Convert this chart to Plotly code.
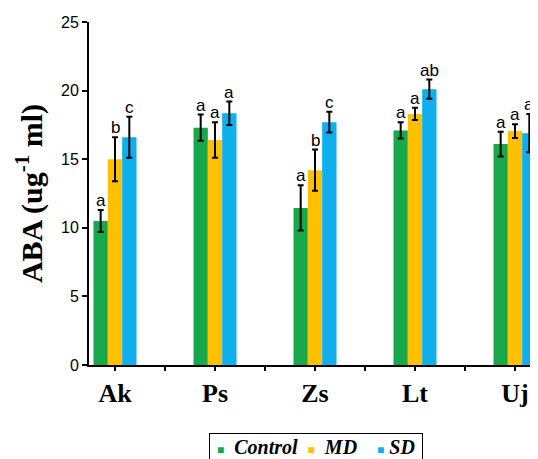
import plotly.graph_objects as go

categories = ["Ak", "Ps", "Zs", "Lt", "Uj"]
series_names = ["Control", "MD", "SD"]
control = [10.5, 17.3, 11.45, 17.1, 16.1]
control_err = [0.8, 0.95, 1.65, 0.6, 0.9]
md = [15.0, 16.4, 14.2, 18.3, 17.05]
md_err = [1.6, 1.3, 1.5, 0.45, 0.5]
sd = [16.6, 18.35, 17.7, 20.1, 16.9]
sd_err = [1.5, 0.85, 0.75, 0.7, 1.4]
control_letters = ["a", "a", "a", "a", "a"]
md_letters = ["b", "a", "b", "a", "a"]
sd_letters = ["c", "a", "c", "ab", "a"]
y_ticks = [0, 5, 10, 15, 20, 25]

colors = ["#17A84B", "#FFC000", "#0FAFEE"]
values = [control, md, sd]
errors = [control_err, md_err, sd_err]
letters = [control_letters, md_letters, sd_letters]

xs = list(range(len(categories)))
bar_w = 0.14
offsets = [-bar_w, 0, bar_w]

fig = go.Figure()
for name, vals, errs, col in zip(series_names, values, errors, colors):
    fig.add_trace(go.Bar(
        x=xs, y=vals, name=name, marker_color=col, marker_line_width=0,
        error_y=dict(type="data", array=errs, visible=True, color="black",
                     thickness=2, width=3),
        showlegend=False,
    ))

for off, vals, errs, labs in zip(offsets, values, errors, letters):
    for i, (v, e, t) in enumerate(zip(vals, errs, labs)):
        fig.add_annotation(
            x=i + off, y=v + e, text=t, showarrow=False,
            yanchor="bottom", xanchor="center", yshift=-2,
            font=dict(family="Liberation Sans, Arial", size=17, color="black"),
        )

# Legend box (compact, like the original)
NB = "\u00a0"
gaps_before_text = [NB * 2, NB * 2, NB]
gaps_after = [NB * 2, NB * 4, NB]
legend_text = NB
for name, col, g1, g2 in zip(series_names, colors, gaps_before_text, gaps_after):
    legend_text += (f'<span style="color:{col};font-size:12px">■</span>'
                    f'{g1}<b><i>{name}</i></b>{g2}')
fig.add_annotation(
    xref="paper", yref="paper", x=0.5056, y=-0.198,
    xanchor="center", yanchor="top", showarrow=False,
    text=legend_text, align="left",
    font=dict(family="Liberation Serif, Times New Roman", size=20, color="black"),
    bordercolor="black", borderwidth=1, borderpad=2, bgcolor="white",
)

fig.update_layout(
    width=530, height=451,
    margin=dict(l=81, r=0, t=14, b=94, autoexpand=False),
    paper_bgcolor="white", plot_bgcolor="white",
    barmode="group", bargap=0.57, bargroupgap=0,
    showlegend=False,
    xaxis=dict(
        range=[-0.26, 4.23], tickmode="array", tickvals=xs,
        ticktext=[f"<b>{c}</b>" for c in categories],
        showline=True, linecolor="black", linewidth=2,
        ticks="outside", ticklen=4, tickwidth=2, tickcolor="black",
        minor=dict(tick0=0.5, dtick=1, ticks="outside", ticklen=4, tickwidth=2,
                   tickcolor="black", showgrid=False),
        showgrid=False, zeroline=False,
        tickfont=dict(family="Liberation Serif, Times New Roman", size=26, color="black"),
    ),
    yaxis=dict(
        range=[0, 25], tickvals=y_ticks,
        showline=True, linecolor="black", linewidth=2,
        ticks="outside", ticklen=5, tickwidth=2, tickcolor="black",
        showgrid=False, zeroline=False,
        tickfont=dict(family="Liberation Sans, Arial", size=16, color="black"),
        title=dict(text="<b>ABA (ug<sup>-1</sup> ml)</b>",
                   font=dict(family="Liberation Serif, Times New Roman", size=30, color="black"),
                   standoff=10),
    ),
)

fig.write_html("out.html")
